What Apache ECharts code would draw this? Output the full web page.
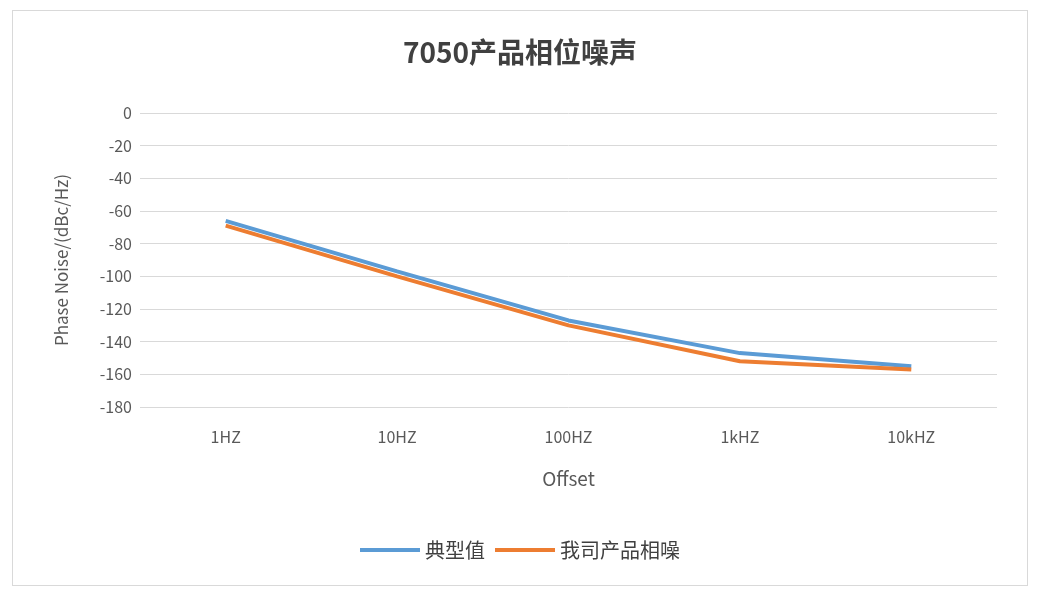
<!DOCTYPE html>
<html>
<head>
<meta charset="utf-8">
<script src="https://cdn.jsdelivr.net/npm/echarts@6/dist/echarts.min.js"></script>
<style>
  body { margin: 0; background: #fff; }
  #frame { position: absolute; left: 12px; top: 10px; width: 1014px; height: 574px; border: 1px solid #d9d9d9; }
  #chart { width: 1040px; height: 600px; }
</style>
</head>
<body>
<div id="frame"></div>
<div id="chart"></div>
<script>
const categories = ["1HZ", "10HZ", "100HZ", "1kHZ", "10kHZ"];
const typical = [-66, -97, -127, -147, -155];
const ours = [-69, -100, -130, -152, -157];
const yTicks = { min: -180, max: 0, interval: 20 };

const chart = echarts.init(document.getElementById("chart"));
const font = "'Noto Sans CJK SC', 'Open Sans', sans-serif";
chart.setOption({
  animation: false,
  title: {
    text: "7050产品相位噪声",
    left: "center",
    top: 33,
    textStyle: { fontFamily: font, fontSize: 28, fontWeight: "bold", color: "#404040" },
  },
  legend: {
    bottom: 35,
    itemWidth: 60,
    itemHeight: 4,
    itemGap: 10,
    icon: "rect",
    textStyle: { fontFamily: font, fontSize: 20, color: "#404040" },
    data: ["典型值", "我司产品相噪"],
  },
  grid: { left: 140, right: 43, top: 113, bottom: 193 },
  xAxis: {
    type: "category",
    data: categories,
    name: "Offset",
    nameLocation: "middle",
    nameGap: 62,
    nameTextStyle: { fontFamily: font, fontSize: 19, color: "#595959" },
    axisTick: { show: false },
    axisLine: { show: false },
    axisLabel: { fontFamily: font, fontSize: 16, color: "#595959", margin: 22 },
  },
  yAxis: {
    type: "value",
    ...yTicks,
    name: "Phase Noise/(dBc/Hz)",
    nameLocation: "middle",
    nameGap: 70,
    nameTextStyle: { fontFamily: font, fontSize: 17, color: "#595959" },
    axisLabel: { fontFamily: font, fontSize: 16, color: "#595959", margin: 8 },
    splitLine: { lineStyle: { color: "#d9d9d9" } },
  },
  series: [
    { name: "典型值", type: "line", data: typical, symbol: "none",
      lineStyle: { width: 4, color: "#5b9bd5" }, itemStyle: { color: "#5b9bd5" } },
    { name: "我司产品相噪", type: "line", data: ours, symbol: "none",
      lineStyle: { width: 4, color: "#ed7d31" }, itemStyle: { color: "#ed7d31" } },
  ],
});
</script>
</body>
</html>
